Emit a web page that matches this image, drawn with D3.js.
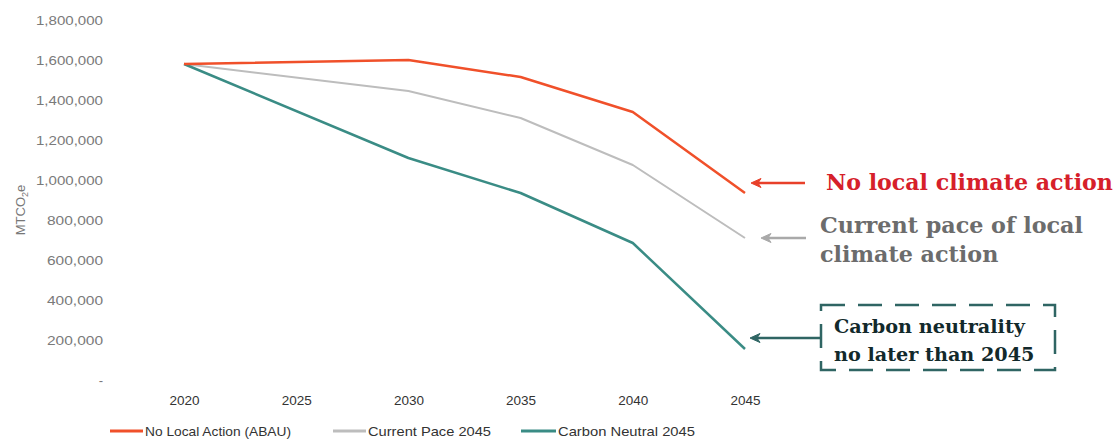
<!DOCTYPE html>
<html><head><meta charset="utf-8">
<script src="https://cdn.jsdelivr.net/npm/d3@7"></script>
<style>body{margin:0;background:#fff}svg{display:block}</style>
</head><body>
<svg id="c" width="1119" height="439"></svg>
<script>
const years = [2020, 2030, 2035, 2040, 2045];
const tickYears = [2020, 2025, 2030, 2035, 2040, 2045];
const noLocalAction = [1580000, 1600000, 1515000, 1340000, 935000];
const currentPace = [1580000, 1445000, 1310000, 1075000, 710000];
const carbonNeutral = [1580000, 1110000, 935000, 685000, 155000];
const yTicks = [0, 200000, 400000, 600000, 800000, 1000000, 1200000, 1400000, 1600000, 1800000];
const seriesNames = ["No Local Action (ABAU)", "Current Pace 2045", "Carbon Neutral 2045"];
const seriesColors = ["#f0502a", "#bdbdbd", "#3a8c85"];

const svg = d3.select("#c");
const x = d3.scaleLinear().domain([2020, 2045]).range([184, 745]);
const y = d3.scaleLinear().domain([0, 1800000]).range([380, 20]);
const sans = "Liberation Sans, Arial, sans-serif";
const serif = "DejaVu Serif, Liberation Serif, serif";

function fit(sel, w) {
  const size = parseFloat(sel.style("font-size"));
  const len = sel.node().getComputedTextLength();
  const ns = size * w / len;
  sel.style("font-size", ns + "px");
  return ns;
}

const fmt = v => v === 0 ? "-" : d3.format(",")(v);
const yAxis = svg.append("g").attr("transform", "translate(110,0)")
  .call(d3.axisLeft(y).tickValues(yTicks).tickFormat(fmt).tickSize(0).tickPadding(7));
yAxis.select(".domain").remove();
yAxis.selectAll("text").attr("fill", "#7a7a7a").style("font-family", sans).style("font-size", "13px")
  .attr("textLength", d => d === 0 ? null : (d >= 1000000 ? 67 : 56)).attr("lengthAdjust", "spacingAndGlyphs");

const xAxis = svg.append("g").attr("transform", "translate(0,389)")
  .call(d3.axisBottom(x).tickValues(tickYears).tickFormat(d3.format("d")).tickSize(0).tickPadding(6));
xAxis.select(".domain").remove();
xAxis.selectAll("text").attr("fill", "#333").style("font-family", sans).style("font-size", "13.5px");

svg.append("text").attr("transform", "translate(25,210) rotate(-90)")
  .attr("text-anchor", "middle").attr("fill", "#777")
  .style("font-family", sans).style("font-size", "13px")
  .html('MTCO<tspan font-size="9" dy="3">2</tspan><tspan dy="-3">e</tspan>');

const allSeries = [noLocalAction, currentPace, carbonNeutral];
const line = d3.line().x((d, i) => x(years[i])).y(d => y(d));
[1, 2, 0].forEach(k => {
  svg.append("path").datum(allSeries[k]).attr("d", line)
    .attr("fill", "none").attr("stroke", seriesColors[k]).attr("stroke-width", k === 1 ? 2 : 2.5)
    .attr("stroke-linejoin", "round");
});

// legend
const legX = [110, 333, 521];
const legW = [33, 33, 35];
const legTextW = [146, 123, 137];
seriesNames.forEach((n, i) => {
  svg.append("line").attr("x1", legX[i]).attr("x2", legX[i] + legW[i]).attr("y1", 431).attr("y2", 431)
    .attr("stroke", seriesColors[i]).attr("stroke-width", 3);
  svg.append("text").attr("x", legX[i] + legW[i] + 2).attr("y", 436).text(n).attr("fill", "#333")
    .style("font-family", sans).style("font-size", "13px")
    .attr("textLength", legTextW[i]).attr("lengthAdjust", "spacingAndGlyphs");
});

// annotations: arrows
function arrow(tip, tail, yy, color) {
  svg.append("line").attr("x1", tip + 6).attr("x2", tail).attr("y1", yy).attr("y2", yy)
    .attr("stroke", color).attr("stroke-width", 2.5);
  svg.append("path").attr("d", `M${tip},${yy} L${tip + 10},${yy - 4.5} L${tip + 7},${yy} L${tip + 10},${yy + 4.5} Z`)
    .attr("fill", color).attr("stroke", color).attr("stroke-width", 1).attr("stroke-linejoin", "round");
}
arrow(751, 805, 183, "#e8402a");
arrow(761, 806, 238, "#a9a9a9");
arrow(750, 821, 338, "#2f6563");

function label(tx, ty, str, color, size) {
  return svg.append("text").attr("x", tx).attr("y", ty).text(str)
    .attr("fill", color).style("font-family", serif).style("font-weight", "bold").style("font-size", size + "px");
}
fit(label(826, 190, "No local climate action", "#d6202a", 22), 287);
const gs = fit(label(820, 233, "Current pace of local", "#6c6c6c", 22), 263);
label(820, 262, "climate action", "#6c6c6c", gs);

svg.append("rect").attr("x", 821).attr("y", 305).attr("width", 234).attr("height", 65)
  .attr("fill", "none").attr("stroke", "#2f6563").attr("stroke-width", 2.5).attr("stroke-dasharray", "24,13");
const ts = fit(label(834, 333, "Carbon neutrality", "#12292b", 18), 191);
label(834, 361, "no later than 2045", "#12292b", ts);
</script>
</body></html>
